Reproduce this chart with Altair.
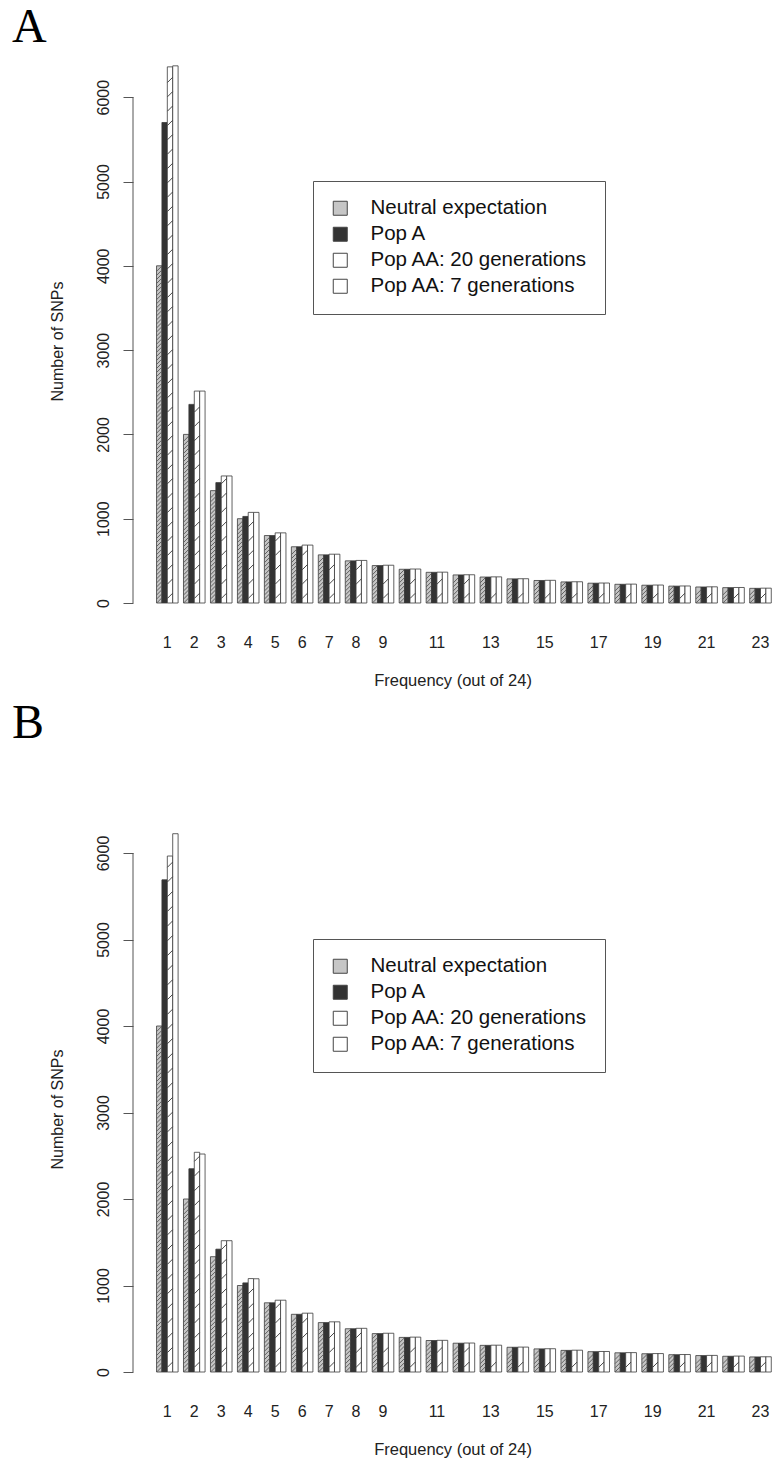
import altair as alt
import pandas as pd

freqs = list(range(1, 24))
series_names = ["Neutral expectation", "Pop A", "Pop AA: 20 generations", "Pop AA: 7 generations"]

neutral = [4000, 2000, 1333, 1000, 800, 667, 571, 500, 444, 400, 364, 333, 308, 286, 267, 250, 235, 222, 211, 200, 190, 182, 174]

a_pop_a = [5700, 2356, 1428, 1027, 800, 667, 571, 500, 444, 400, 364, 333, 308, 286, 267, 250, 235, 222, 211, 200, 190, 182, 174]
a_aa20 = [6360, 2514, 1507, 1075, 832, 687, 579, 505, 448, 403, 366, 335, 310, 288, 269, 252, 237, 224, 213, 202, 192, 184, 176]
a_aa7 = [6372, 2514, 1507, 1075, 832, 687, 579, 505, 448, 403, 366, 335, 310, 288, 269, 252, 237, 224, 213, 202, 192, 184, 176]

b_pop_a = [5690, 2350, 1420, 1030, 800, 667, 571, 500, 444, 400, 364, 333, 308, 286, 267, 250, 235, 222, 211, 200, 190, 182, 174]
b_aa20 = [5965, 2540, 1518, 1080, 830, 680, 580, 505, 448, 403, 366, 335, 310, 288, 269, 252, 237, 224, 213, 202, 192, 184, 176]
b_aa7 = [6223, 2520, 1518, 1078, 830, 680, 580, 505, 448, 403, 366, 335, 310, 288, 269, 252, 237, 224, 213, 202, 192, 184, 176]

y_ticks = [0, 1000, 2000, 3000, 4000, 5000, 6000]
x_ticks = [1, 2, 3, 4, 5, 6, 7, 8, 9, 11, 13, 15, 17, 19, 21, 23]
fill_colors = ["#c6c6c6", "#333333", "#ffffff", "#ffffff"]

SANS = "Liberation Sans"
SERIF = "Liberation Serif"


def long_table(cols):
    rows = []
    for name, vals in zip(series_names, cols):
        for f, v in zip(freqs, vals):
            rows.append({"freq": f, "series": name, "value": v})
    return pd.DataFrame(rows)


def panel(letter, cols, height, ymax, title_y, legend_y):
    df = long_table(cols)
    x = alt.X(
        "freq:O",
        title="Frequency (out of 24)",
        scale=alt.Scale(paddingInner=0.2, paddingOuter=0.45, align=0.97),
        axis=alt.Axis(
            values=x_ticks, labelAngle=0, domain=False, ticks=False, tickSize=0,
            labelPadding=31, titlePadding=22, labelFontSize=16, titleFontSize=16.5,
            labelFont=SANS, titleFont=SANS, titleFontWeight="normal",
            labelColor="#222222", titleColor="#222222",
        ),
    )
    xo = alt.XOffset(
        "series:N", sort=series_names,
        scale=alt.Scale(domain=series_names, paddingInner=0, paddingOuter=0),
    )
    yscale = alt.Scale(domain=[0, ymax], nice=False, zero=True)
    yaxis = alt.Axis(
        values=y_ticks, format="d", domain=False, grid=False, tickSize=10, tickColor="#555555",
        tickWidth=1, labelAngle=270, labelAlign="center", labelBaseline="bottom", labelPadding=12,
        labelFontSize=16, labelFont=SANS, labelColor="#222222",
        title="Number of SNPs", titleFont=SANS, titleFontSize=16, titleFontWeight="normal",
        titleColor="#222222", titlePadding=30, titleY=title_y,
    )
    bars = alt.Chart(df).mark_bar(stroke="#3a3a3a", strokeWidth=0.8).encode(
        x=x, xOffset=xo,
        y=alt.Y("value:Q", scale=yscale, axis=yaxis),
        color=alt.Color(
            "series:N",
            scale=alt.Scale(domain=series_names, range=fill_colors),
            legend=alt.Legend(
                title=None, orient="none", legendX=180, legendY=legend_y, direction="vertical",
                symbolType="square", symbolSize=196, symbolStrokeColor="#444444",
                symbolStrokeWidth=1, labelFontSize=20.5, labelFont=SANS, labelColor="#111111",
                labelOffset=20, rowPadding=5, padding=17, strokeColor="#555555",
                fillColor="#ffffff", labelLimit=400,
            ),
        ),
    )
    hatch_dense = (
        alt.Chart(df)
        .transform_filter(alt.datum.series == series_names[0])
        .transform_calculate(hy="sequence(30, datum.value - 25, 48)")
        .transform_flatten(["hy"])
        .mark_point(shape="M-1,1L1,-1", filled=False, size=26, stroke="#555555",
                    strokeWidth=0.9, opacity=1)
        .encode(x=x, xOffset=xo, y=alt.Y("hy:Q", scale=yscale, axis=yaxis))
    )
    hatch_sparse = (
        alt.Chart(df)
        .transform_filter(alt.datum.series == series_names[2])
        .transform_calculate(hy="sequence(85, datum.value - 60, 170)")
        .transform_flatten(["hy"])
        .mark_point(shape="M-1,1L1,-1", filled=False, size=26, stroke="#333333",
                    strokeWidth=0.9, opacity=1)
        .encode(x=x, xOffset=xo, y=alt.Y("hy:Q", scale=yscale, axis=yaxis))
    )
    axis_line = alt.Chart(pd.DataFrame({"k": [0]})).mark_rule(color="#555555", strokeWidth=1).encode(
        x=alt.value(0), y=alt.datum(y_ticks[0]), y2=alt.datum(y_ticks[-1])
    )
    return alt.layer(bars, hatch_dense, hatch_sparse, axis_line).properties(
        width=639, height=height,
        title=alt.TitleParams(
            text=letter, anchor="start", frame="group", font=SERIF, fontSize=48,
            fontWeight="normal", color="#000000", dx=-121, offset=-26.8, baseline="alphabetic",
        ),
    )


pa = panel("A", [neutral, a_pop_a, a_aa20, a_aa7], 540, 540 / 0.0843, 278, 118)
pb = panel("B", [neutral, b_pop_a, b_aa20, b_aa7], 613, 613 / 0.0865, 350, 180)

chart = (
    alt.vconcat(pa, pb, spacing=10)
    .resolve_scale(color="independent")
    .properties(padding={"left": 12, "top": 3, "right": 0, "bottom": 0}, background="white")
    .configure_view(strokeWidth=0, stroke="transparent")
)

chart.save("out.html", embed_options={"renderer": "svg", "actions": False})
